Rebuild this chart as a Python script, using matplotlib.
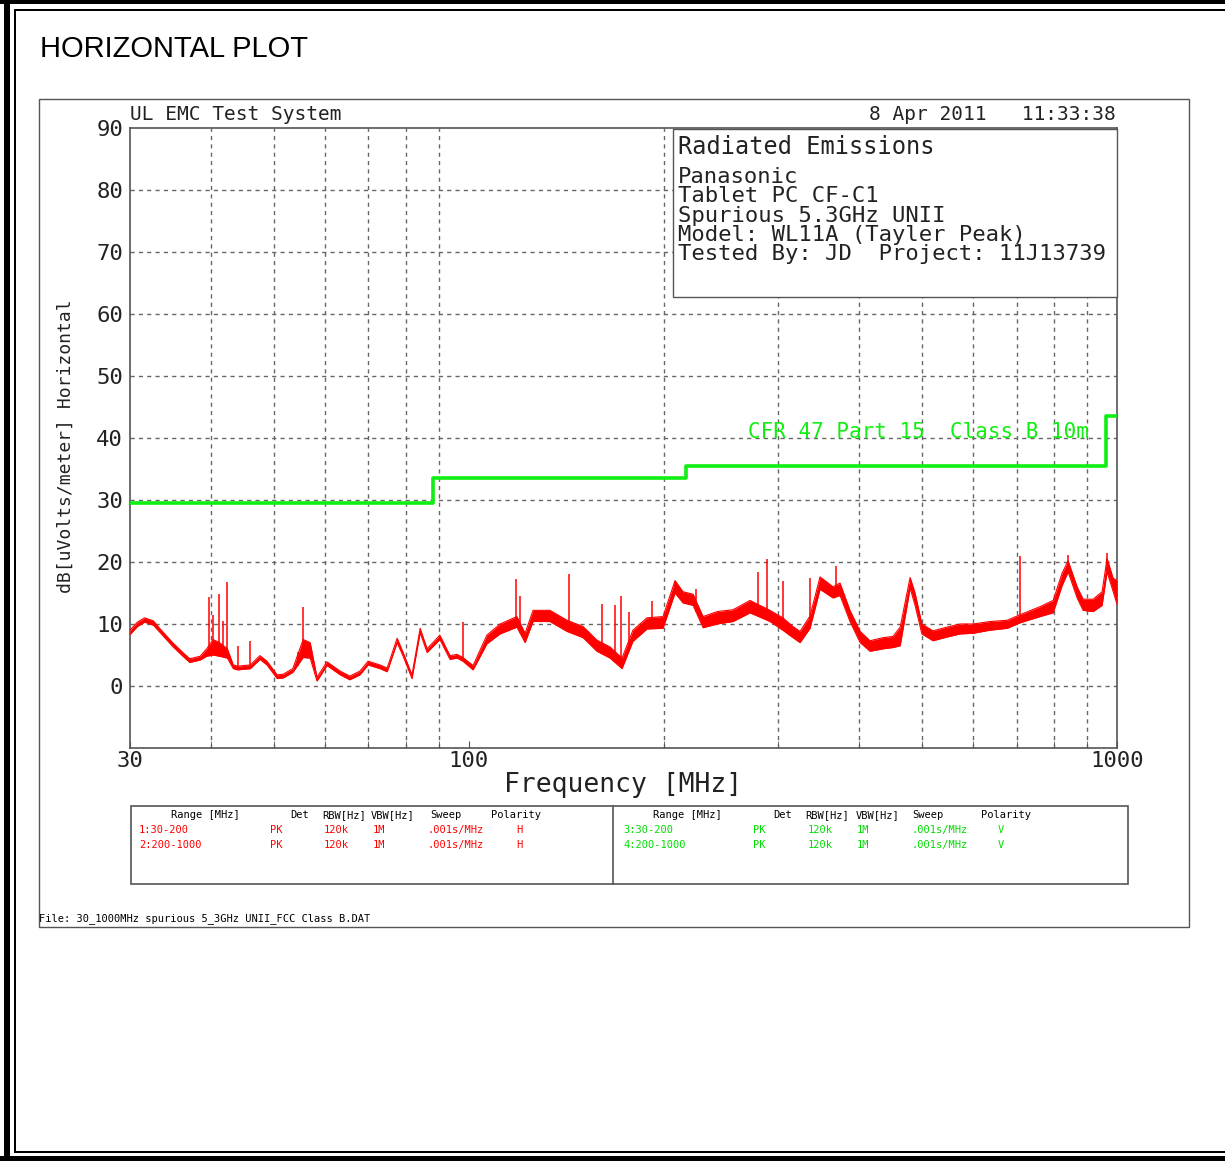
import matplotlib
matplotlib.use('Agg')
import matplotlib.pyplot as plt
from matplotlib.patches import Rectangle
from matplotlib.lines import Line2D
import numpy as np

# ---------------- data ----------------
freq_mhz = [30, 30.8, 31.6, 32.6, 33.4, 34.9, 36.2, 37.1, 38.5, 39.4,
            40.3, 41.2, 42.4, 43.3, 44.0, 46.0, 47.6, 48.8, 50.6, 51.7,
            53.5, 55.5, 56.9, 58.3, 60.4, 63.3, 65.5, 67.9, 69.9, 72.9,
            74.8, 77.5, 79.1, 81.7, 84.1, 86.2, 90.2, 93.5, 95.9, 97.9,
            101.5, 106.6, 111.7, 118.6, 122.1, 125.6, 133.4, 141.7, 150, 157.6,
            165.1, 172.3, 179.1, 188.3, 199.3, 208, 214, 221.8, 229.8, 241.5,
            255.6, 271.5, 291.5, 305, 316.2, 324.3, 336, 348.2, 364.6, 373.8,
            387.3, 401.5, 415.9, 435.6, 451.3, 462.9, 479.5, 488, 500, 520,
            546.8, 572.6, 599.5, 636.8, 676.8, 708.9, 761, 797, 822.9, 840.6,
            867.9, 886.6, 918.6, 948.4, 965.4, 986, 1000]
level_lo = [8.3, 9.6, 10.3, 9.8, 8.6, 6.4, 4.8, 3.8, 4.2, 4.8,
            5.0, 4.8, 4.5, 2.8, 2.6, 2.8, 4.3, 3.4, 1.2, 1.3,
            2.2, 4.6, 4.5, 0.8, 3.3, 1.8, 1.0, 1.8, 3.4, 2.8,
            2.3, 7.0, 4.9, 1.2, 8.6, 5.4, 7.5, 4.3, 4.5, 4.0,
            2.6, 6.8, 8.4, 9.5, 7.0, 10.4, 10.4, 8.8, 7.8, 5.6,
            4.5, 2.8, 7.2, 9.2, 9.3, 15.0, 13.4, 13.0, 9.4, 10.0,
            10.4, 11.8, 10.4, 9.0, 7.8, 7.0, 9.3, 15.6, 14.2, 14.6,
            10.4, 7.0, 5.6, 6.0, 6.2, 6.5, 15.8, 13.0, 8.4, 7.3,
            7.9, 8.4, 8.5, 9.0, 9.3, 10.2, 11.2, 11.8, 16.2, 18.4,
            14.2, 12.2, 12.0, 13.0, 18.4, 15.3, 13.2]
level_hi = [9.0, 10.3, 11.0, 10.5, 9.2, 7.0, 5.4, 4.4, 4.8, 6.0,
            7.5, 7.0, 6.0, 3.4, 3.2, 3.4, 4.9, 4.0, 1.8, 1.9,
            2.8, 7.5, 7.0, 1.4, 3.9, 2.4, 1.6, 2.4, 4.0, 3.4,
            2.9, 7.7, 5.5, 1.8, 9.3, 6.0, 8.2, 4.9, 5.1, 4.6,
            3.3, 8.2, 10.0, 11.2, 8.5, 12.2, 12.2, 10.6, 9.6, 7.4,
            6.3, 4.5, 9.0, 11.0, 11.2, 17.0, 15.2, 14.8, 11.2, 12.0,
            12.3, 13.8, 12.2, 11.0, 9.6, 8.8, 11.3, 17.6, 16.0, 16.6,
            12.2, 8.8, 7.3, 7.8, 8.0, 9.5, 17.5, 15.0, 10.0, 8.9,
            9.5, 10.0, 10.0, 10.4, 10.6, 11.5, 12.8, 13.8, 18.2, 20.2,
            16.0, 14.0, 14.0, 15.2, 20.6, 17.4, 17.0]

spike_freq = [39.7, 40.3, 41.2, 41.7, 42.4, 44.0, 46.0, 54.4, 55.5, 97.9,
              118.3, 119.9, 142.8, 160.5, 167.8, 171.7, 176.7, 192.0, 208.0, 224.0,
              279.3, 288.4, 305.0, 336.0, 368.6, 708.9, 840.6, 965.4]
spike_peak = [14.3, 11.5, 14.8, 10.5, 16.7, 6.4, 7.2, 5.5, 12.7, 10.3,
              17.2, 14.5, 18.0, 13.2, 13.0, 14.5, 12.0, 13.7, 17.0, 15.6,
              18.4, 20.5, 16.9, 17.5, 19.3, 21.0, 21.2, 21.4]

limit_freq = [30, 88, 216, 960, 1000]
limit_level = [29.5, 33.5, 35.5, 43.5, 43.5]
limit_label = "CFR 47 Part 15  Class B 10m"

y_ticks = [0, 10, 20, 30, 40, 50, 60, 70, 80, 90]
x_major = [30, 100, 1000]
x_major_labels = ["30", "100", "1000"]
x_minor = [40, 50, 60, 70, 80, 90, 200, 300, 400, 500, 600, 700, 800, 900]

info_title = "Radiated Emissions"
info_lines = ["Panasonic", "Tablet PC CF-C1", "Spurious 5.3GHz UNII",
              "Model: WL11A (Tayler Peak)", "Tested By: JD  Project: 11J13739"]

table_headers = ["Range [MHz]", "Det", "RBW[Hz]", "VBW[Hz]", "Sweep", "Polarity"]
rows_left = [["1:30-200", "PK", "120k", "1M", ".001s/MHz", "H"],
             ["2:200-1000", "PK", "120k", "1M", ".001s/MHz", "H"]]
rows_right = [["3:30-200", "PK", "120k", "1M", ".001s/MHz", "V"],
              ["4:200-1000", "PK", "120k", "1M", ".001s/MHz", "V"]]

# ---------------- figure ----------------
W, H = 1225, 1161
fig = plt.figure(figsize=(W / 100, H / 100), dpi=100)
fig.patch.set_facecolor('white')


def fx(x):
    return x / W


def fy(y):
    return 1 - y / H


MONO = 'DejaVu Sans Mono'
RED = '#ff0000'
GREEN = '#11ee11'
GRAY = '#555555'
TXT = '#222222'


def rect_px(x0, y0, x1, y1, **kw):
    r = Rectangle((fx(x0), fy(y1)), (x1 - x0) / W, (y1 - y0) / H,
                  transform=fig.transFigure, **kw)
    fig.add_artist(r)
    return r


# page border (double line)
rect_px(0, 0, W, 4, facecolor='black', edgecolor='none')
rect_px(4, 0, 10, H, facecolor='black', edgecolor='none')
rect_px(0, 1156, W, H, facecolor='black', edgecolor='none')
rect_px(14, 9, W, 11, facecolor='black', edgecolor='none')
rect_px(14, 9, 16, 1153, facecolor='black', edgecolor='none')
rect_px(14, 1151, W, 1153, facecolor='black', edgecolor='none')

fig.text(fx(40), fy(49), "HORIZONTAL PLOT", fontsize=21,
         family='Liberation Sans', ha='left', va='center', color='black')

# plot frame
rect_px(39, 99, 1189, 927, facecolor='none', edgecolor=GRAY, linewidth=1)

# ---------------- axes ----------------
ax = fig.add_axes([fx(130), fy(748), (1117 - 130) / W, (748 - 128) / H])
ax.set_xscale('log')
ax.set_xlim(30, 1000)
ax.set_ylim(-10, 90)

ax.set_yticks(y_ticks)
ax.set_yticklabels([str(v) for v in y_ticks], family=MONO, fontsize=16, color=TXT)
ax.set_xticks(x_major)
ax.set_xticklabels(x_major_labels, family=MONO, fontsize=16, color=TXT)
ax.set_xticks(x_minor, minor=True)
ax.set_xticklabels([], minor=True)
ax.tick_params(axis='y', length=0, pad=5)
ax.tick_params(axis='x', which='both', direction='in', length=5, pad=2, color=GRAY)

for v in y_ticks[:-1]:
    ax.axhline(v, color='#666666', lw=1, ls=(0, (3, 3)), zorder=1)
for f in x_minor:
    ax.axvline(f, color='#666666', lw=1, ls=(0, (3, 3)), zorder=1)

for s in ax.spines.values():
    s.set_color(GRAY)
    s.set_linewidth(1.2)

# trace
ax.fill_between(freq_mhz, level_lo, level_hi, color=RED, lw=0, zorder=3)
ax.plot(freq_mhz, level_lo, color=RED, lw=0.8, zorder=3)
ax.plot(freq_mhz, level_hi, color=RED, lw=0.8, zorder=3)
spike_base = np.interp(np.log10(spike_freq), np.log10(freq_mhz), level_lo)
ax.vlines(spike_freq, spike_base, spike_peak, color=RED, lw=1.1, zorder=3)

# limit line
ax.step(limit_freq, limit_level, where='post', color=GREEN, lw=2.6, zorder=4)
ax.text(270, 40.9, limit_label, family=MONO, fontsize=15, color=GREEN,
        ha='left', va='center', zorder=5)

ax.set_xlabel("Frequency [MHz]", family=MONO, fontsize=19, color=TXT, labelpad=1)
ax.set_ylabel("dB[uVolts/meter] Horizontal", family=MONO, fontsize=13, color=TXT)
ax.yaxis.set_label_coords((75 - 130) / 987, (748 - 446) / 620)

# header texts
fig.text(fx(130), fy(115), "UL EMC Test System", family=MONO, fontsize=14,
         ha='left', va='center', color=TXT)
fig.text(fx(1116), fy(115), "8 Apr 2011   11:33:38", family=MONO, fontsize=14,
         ha='right', va='center', color=TXT)

# info box
rect_px(673, 129, 1117, 297, facecolor='white', edgecolor=GRAY, linewidth=1, zorder=5)
fig.text(fx(678), fy(147), info_title, family=MONO, fontsize=17,
         ha='left', va='center', color=TXT, zorder=6)
for i, line in enumerate(info_lines):
    fig.text(fx(678), fy(177 + i * 19.3), line, family=MONO, fontsize=16,
             ha='left', va='center', color=TXT, zorder=6)

# table
rect_px(131, 806, 1128, 884, facecolor='none', edgecolor=GRAY, linewidth=1.2)
fig.add_artist(Line2D([fx(613), fx(613)], [fy(806), fy(884)],
                      transform=fig.transFigure, color=GRAY, lw=1.2))
hdr_x_left = [171, 290, 322, 371, 430, 491]
hdr_x_right = [653, 773, 805, 856, 912, 981]
col_x_left = [139, 270, 324, 373, 427, 516]
col_x_right = [623, 753, 808, 857, 911, 998]
TFS = 7.5
for hx, lx, h in zip(hdr_x_left, hdr_x_right, table_headers):
    fig.text(fx(hx), fy(815), h, family=MONO, fontsize=TFS, ha='left', va='center', color='black')
    fig.text(fx(lx), fy(815), h, family=MONO, fontsize=TFS, ha='left', va='center', color='black')
for r, (rowL, rowR) in enumerate(zip(rows_left, rows_right)):
    yy = 830 + 15 * r
    for cx, txt in zip(col_x_left, rowL):
        fig.text(fx(cx), fy(yy), txt, family=MONO, fontsize=TFS, ha='left', va='center', color=RED)
    for cx, txt in zip(col_x_right, rowR):
        fig.text(fx(cx), fy(yy), txt, family=MONO, fontsize=TFS, ha='left', va='center', color='#00dd00')

fig.text(fx(39), fy(919), "File: 30_1000MHz spurious 5_3GHz UNII_FCC Class B.DAT",
         family=MONO, fontsize=7.5, ha='left', va='center', color='black')

fig.savefig('out.png', dpi=100, facecolor='white')
